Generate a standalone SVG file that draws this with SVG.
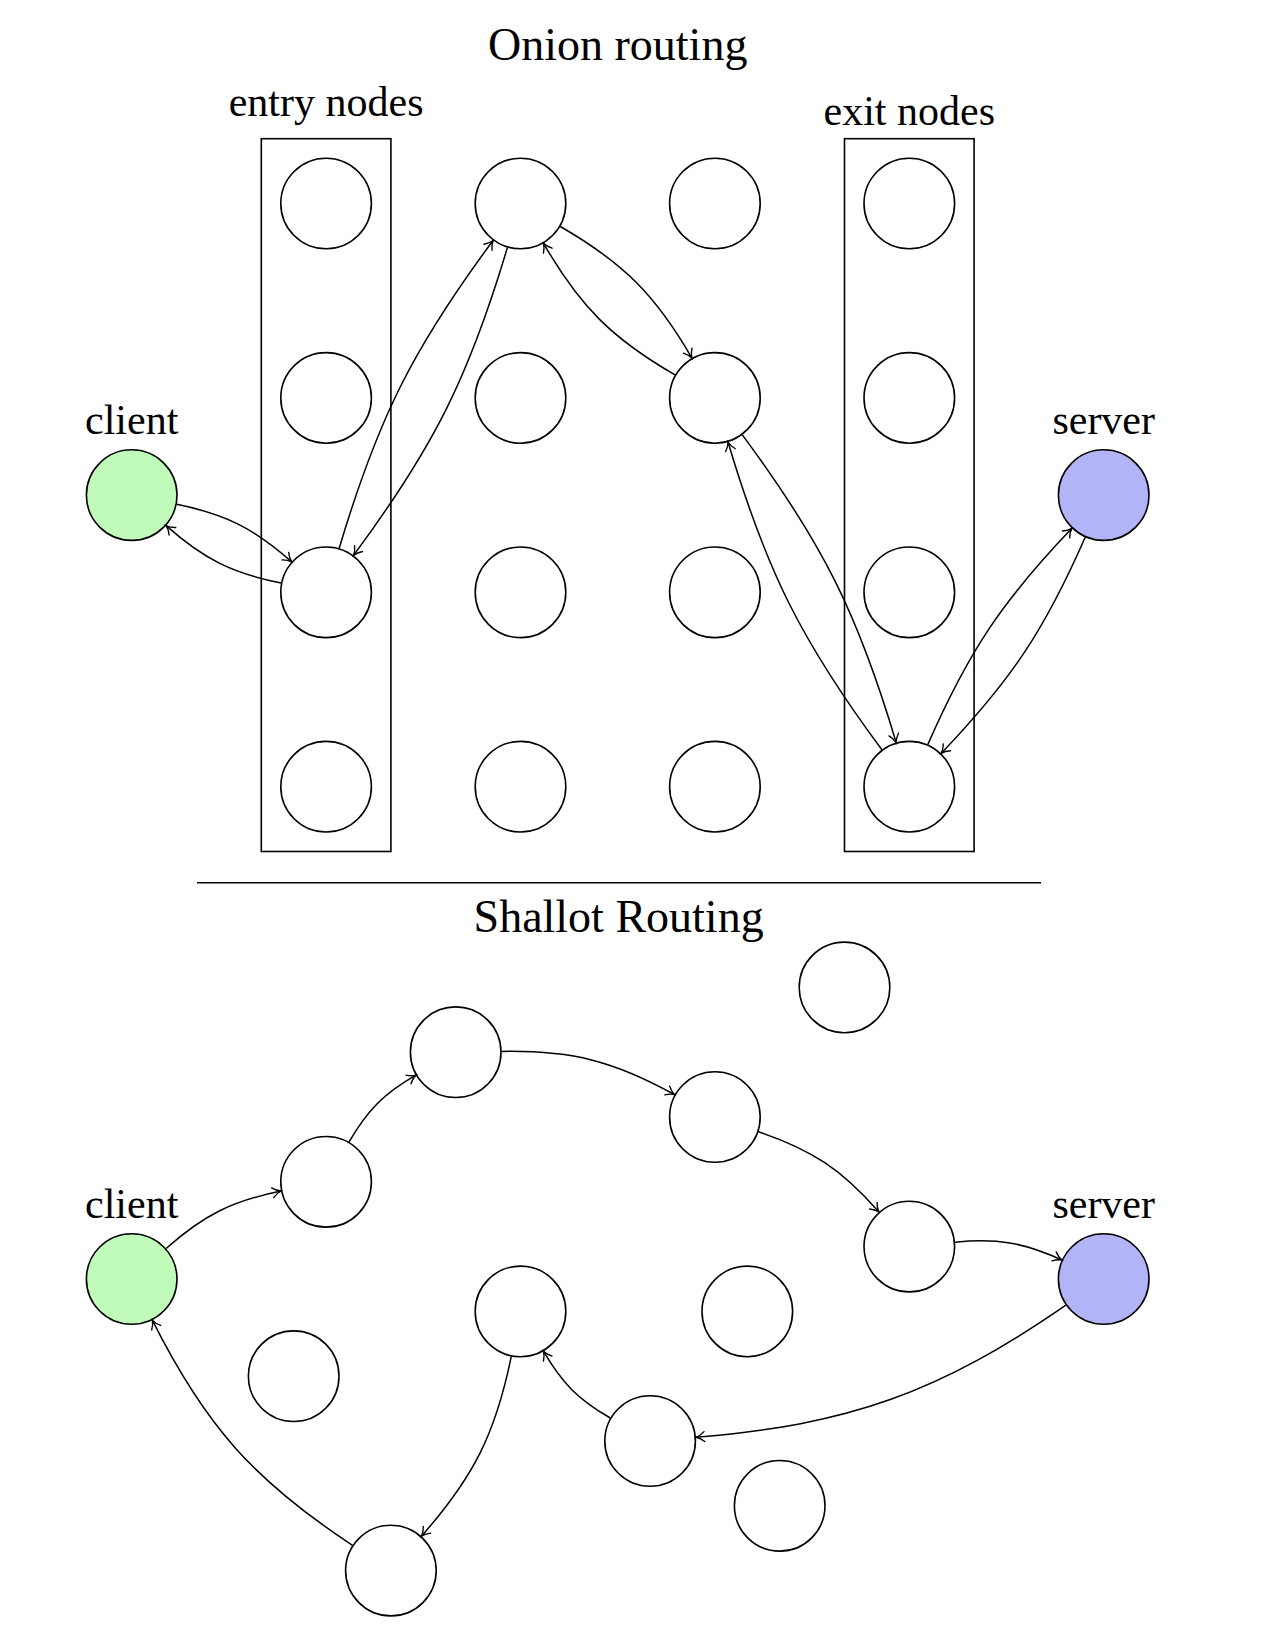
<svg xmlns="http://www.w3.org/2000/svg" width="1284" height="1652" viewBox="0 0 1284 1652">
<style>
.bg{fill:#ffffff}
.nd{fill:#ffffff;stroke:#000;stroke-width:1.6}
.cl{fill:#c1fbba;stroke:#000;stroke-width:1.6}
.sv{fill:#b3b3f8;stroke:#000;stroke-width:1.6}
.box{fill:none;stroke:#000;stroke-width:1.6}
.sep{stroke:#000;stroke-width:1.6}
.e{fill:none;stroke:#000;stroke-width:1.5;marker-end:url(#arr)}
.t{font-family:"Liberation Serif","Times New Roman",serif;fill:#000;text-anchor:middle}
.ti{font-size:46px}
.lb{font-size:42px}
</style>
<defs>
<marker id="arr" viewBox="-11 -7 13 14" markerWidth="13" markerHeight="14" refX="0" refY="0" orient="auto" markerUnits="userSpaceOnUse">
<path d="M-8.5,-5 C-5.5,-2.2 -2.2,-0.6 0,0 C-2.2,0.6 -5.5,2.2 -8.5,5" fill="none" stroke="#000" stroke-width="1.35" stroke-linecap="round"/>
</marker>
</defs>
<rect class="bg" x="0" y="0" width="1284" height="1652"/>

<g id="titles">
<text class="t ti" x="617.7" y="60">Onion routing</text>
<text class="t ti" x="618.6" y="932">Shallot Routing</text>
</g>

<g id="entry-box">
<rect class="box" x="261.3" y="138.7" width="129.6" height="712.8"/>
<text class="t lb" x="326.1" y="116">entry nodes</text>
</g>
<g id="exit-box">
<rect class="box" x="844.5" y="138.7" width="129.6" height="712.8"/>
<text class="t lb" x="909.3" y="124.5">exit nodes</text>
</g>

<line id="separator" class="sep" x1="197" y1="882.7" x2="1041" y2="882.7"/>

<g id="onion-nodes">
<g id="o-client"><circle class="cl" cx="131.7" cy="495.1" r="45.3"/><text class="t lb" x="131.7" y="433.5">client</text></g>
<g id="o-server"><circle class="sv" cx="1103.7" cy="495.1" r="45.3"/><text class="t lb" x="1103.7" y="433.5">server</text></g>
<g id="o-1-1"><circle class="nd" cx="326.1" cy="203.5" r="45.3"/></g>
<g id="o-1-2"><circle class="nd" cx="326.1" cy="397.9" r="45.3"/></g>
<g id="o-1-3"><circle class="nd" cx="326.1" cy="592.3" r="45.3"/></g>
<g id="o-1-4"><circle class="nd" cx="326.1" cy="786.7" r="45.3"/></g>
<g id="o-2-1"><circle class="nd" cx="520.5" cy="203.5" r="45.3"/></g>
<g id="o-2-2"><circle class="nd" cx="520.5" cy="397.9" r="45.3"/></g>
<g id="o-2-3"><circle class="nd" cx="520.5" cy="592.3" r="45.3"/></g>
<g id="o-2-4"><circle class="nd" cx="520.5" cy="786.7" r="45.3"/></g>
<g id="o-3-1"><circle class="nd" cx="714.9" cy="203.5" r="45.3"/></g>
<g id="o-3-2"><circle class="nd" cx="714.9" cy="397.9" r="45.3"/></g>
<g id="o-3-3"><circle class="nd" cx="714.9" cy="592.3" r="45.3"/></g>
<g id="o-3-4"><circle class="nd" cx="714.9" cy="786.7" r="45.3"/></g>
<g id="o-4-1"><circle class="nd" cx="909.3" cy="203.5" r="45.3"/></g>
<g id="o-4-2"><circle class="nd" cx="909.3" cy="397.9" r="45.3"/></g>
<g id="o-4-3"><circle class="nd" cx="909.3" cy="592.3" r="45.3"/></g>
<g id="o-4-4"><circle class="nd" cx="909.3" cy="786.7" r="45.3"/></g>
</g>

<g id="shallot-nodes">
<g id="s-client"><circle class="cl" cx="131.7" cy="1279" r="45.3"/><text class="t lb" x="131.7" y="1217.5">client</text></g>
<g id="s-server"><circle class="sv" cx="1103.7" cy="1279" r="45.3"/><text class="t lb" x="1103.7" y="1217.5">server</text></g>
<g id="s-n1"><circle class="nd" cx="326.1" cy="1181.8" r="45.3"/></g>
<g id="s-n2"><circle class="nd" cx="455.7" cy="1052.2" r="45.3"/></g>
<g id="s-n3"><circle class="nd" cx="714.9" cy="1117" r="45.3"/></g>
<g id="s-n4"><circle class="nd" cx="909.3" cy="1246.6" r="45.3"/></g>
<g id="s-n5"><circle class="nd" cx="844.5" cy="987.4" r="45.3"/></g>
<g id="s-n6"><circle class="nd" cx="520.5" cy="1311.4" r="45.3"/></g>
<g id="s-n7"><circle class="nd" cx="747.3" cy="1311.4" r="45.3"/></g>
<g id="s-n8"><circle class="nd" cx="293.7" cy="1376.2" r="45.3"/></g>
<g id="s-n9"><circle class="nd" cx="650.1" cy="1441" r="45.3"/></g>
<g id="s-n10"><circle class="nd" cx="779.7" cy="1505.8" r="45.3"/></g>
<g id="s-n11"><circle class="nd" cx="390.9" cy="1570.6" r="45.3"/></g>
</g>

<g id="connectors">
<path class="e" d="M176.77,504.32 C226.05,514.40 254.05,528.41 291.68,561.78"/>
<path class="e" d="M281.03,583.08 C231.75,573.00 203.75,558.99 166.12,525.62"/>
<path class="e" d="M339.21,548.21 C377.62,419.09 412.82,348.63 493.09,240.44"/>
<path class="e" d="M507.39,247.59 C468.98,376.71 433.78,447.17 353.51,555.36"/>
<path class="e" d="M560.34,226.5 C623.42,262.92 655.48,294.98 691.9,358.06"/>
<path class="e" d="M675.06,374.9 C611.98,338.48 579.92,306.42 543.5,243.34"/>
<path class="e" d="M742.31,434.84 C822.58,543.03 857.78,613.49 896.19,742.61"/>
<path class="e" d="M881.89,749.76 C801.62,641.57 766.42,571.11 728.01,441.99"/>
<path class="e" d="M927.78,744.58 C968.66,651.41 1001.61,601.89 1071.91,528.35"/>
<path class="e" d="M1085.22,537.22 C1044.34,630.39 1011.39,679.91 941.09,753.45"/>

<path class="e" d="M166.12,1248.48 C203.75,1215.11 231.75,1201.10 281.03,1191.02"/>
<path class="e" d="M349.1,1141.96 C367.58,1109.95 383.85,1093.68 415.86,1075.2"/>
<path class="e" d="M501.69,1051.43 C571.49,1050.26 613.64,1060.8 674.68,1094.68"/>
<path class="e" d="M758.47,1131.74 C812.16,1149.91 841.53,1169.46 878.94,1212.04"/>
<path class="e" d="M955.09,1242.16 C997.25,1238.07 1023.27,1242.41 1061.83,1259.95"/>
<path class="e" d="M1065.86,1305.15 C939.35,1392.59 849.22,1424.80 695.95,1437.27"/>
<path class="e" d="M610.26,1418 C578.25,1399.52 561.98,1383.25 543.5,1351.24"/>
<path class="e" d="M511.28,1356.47 C495.51,1433.53 473.61,1477.33 421.42,1536.18"/>
<path class="e" d="M352.48,1545.30 C253.97,1480.42 205.18,1425.56 152.32,1320.12"/>
</g>
</svg>
